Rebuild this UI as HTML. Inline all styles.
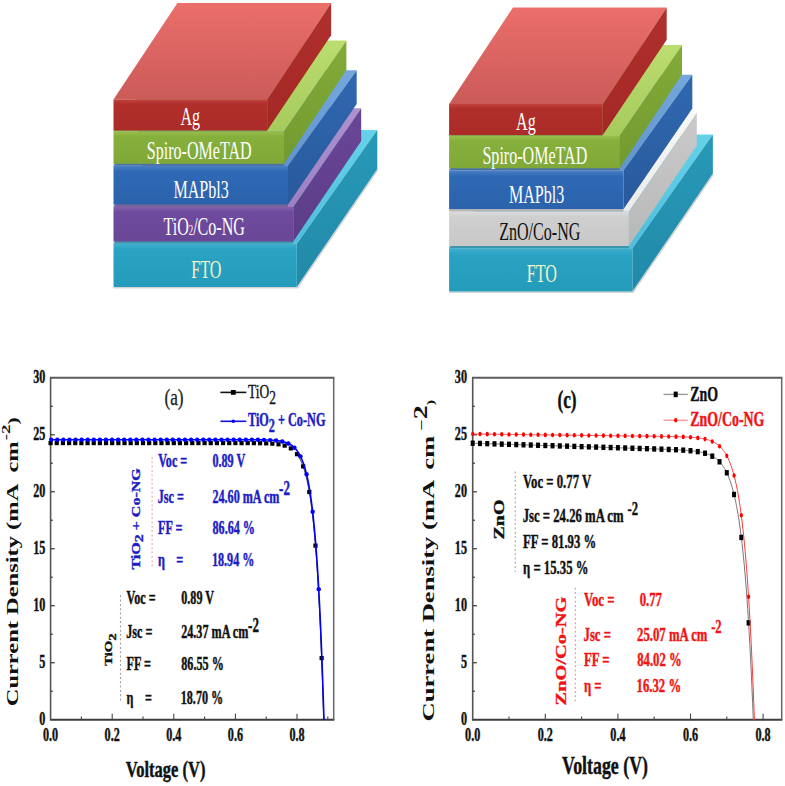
<!DOCTYPE html>
<html><head><meta charset="utf-8"><style>
html,body{margin:0;padding:0;background:#fff;width:785px;height:786px;overflow:hidden}
svg{display:block;font-family:"Liberation Serif",serif}
</style></head><body>
<svg width="785" height="786" viewBox="0 0 785 786">
<defs>
<linearGradient id="t_red" x1="0" y1="0" x2="0" y2="1"><stop offset="0" stop-color="#eb6e6a"/><stop offset="1" stop-color="#cb5b59"/></linearGradient>
<linearGradient id="f_red" x1="0" y1="0" x2="0" y2="1"><stop offset="0" stop-color="#c0433e"/><stop offset="0.15" stop-color="#b12f2b"/><stop offset="1" stop-color="#aa2b28"/></linearGradient>
<linearGradient id="s_red" x1="0" y1="0" x2="0" y2="1"><stop offset="0" stop-color="#b0302c"/><stop offset="1" stop-color="#a32826"/></linearGradient>
<linearGradient id="t_green" x1="0" y1="0" x2="0" y2="1"><stop offset="0" stop-color="#bcdd70"/><stop offset="1" stop-color="#a6ca5c"/></linearGradient>
<linearGradient id="f_green" x1="0" y1="0" x2="0" y2="1"><stop offset="0" stop-color="#97bf4c"/><stop offset="0.15" stop-color="#86b03c"/><stop offset="1" stop-color="#80a838"/></linearGradient>
<linearGradient id="s_green" x1="0" y1="0" x2="0" y2="1"><stop offset="0" stop-color="#82ab38"/><stop offset="1" stop-color="#729a30"/></linearGradient>
<linearGradient id="t_blue" x1="0" y1="0" x2="0" y2="1"><stop offset="0" stop-color="#74a8dc"/><stop offset="1" stop-color="#5f94cf"/></linearGradient>
<linearGradient id="f_blue" x1="0" y1="0" x2="0" y2="1"><stop offset="0" stop-color="#4a80c4"/><stop offset="0.15" stop-color="#2f69b5"/><stop offset="1" stop-color="#2b62ab"/></linearGradient>
<linearGradient id="s_blue" x1="0" y1="0" x2="0" y2="1"><stop offset="0" stop-color="#3068b0"/><stop offset="1" stop-color="#285a9c"/></linearGradient>
<linearGradient id="t_purple" x1="0" y1="0" x2="0" y2="1"><stop offset="0" stop-color="#ae92cf"/><stop offset="1" stop-color="#9c80c2"/></linearGradient>
<linearGradient id="f_purple" x1="0" y1="0" x2="0" y2="1"><stop offset="0" stop-color="#8262ad"/><stop offset="0.15" stop-color="#6f4a9e"/><stop offset="1" stop-color="#6a4696"/></linearGradient>
<linearGradient id="s_purple" x1="0" y1="0" x2="0" y2="1"><stop offset="0" stop-color="#6a4698"/><stop offset="1" stop-color="#5c3c88"/></linearGradient>
<linearGradient id="t_gray" x1="0" y1="0" x2="0" y2="1"><stop offset="0" stop-color="#f8f8f8"/><stop offset="1" stop-color="#ebebeb"/></linearGradient>
<linearGradient id="f_gray" x1="0" y1="0" x2="0" y2="1"><stop offset="0" stop-color="#dedede"/><stop offset="0.15" stop-color="#cfcfcf"/><stop offset="1" stop-color="#c8c8c8"/></linearGradient>
<linearGradient id="s_gray" x1="0" y1="0" x2="0" y2="1"><stop offset="0" stop-color="#cacaca"/><stop offset="1" stop-color="#b8b8b8"/></linearGradient>
<linearGradient id="t_cyan" x1="0" y1="0" x2="0" y2="1"><stop offset="0" stop-color="#66d2ea"/><stop offset="1" stop-color="#4cbfdc"/></linearGradient>
<linearGradient id="f_cyan" x1="0" y1="0" x2="0" y2="1"><stop offset="0" stop-color="#3fb0cf"/><stop offset="0.15" stop-color="#29a2c3"/><stop offset="1" stop-color="#259bba"/></linearGradient>
<linearGradient id="s_cyan" x1="0" y1="0" x2="0" y2="1"><stop offset="0" stop-color="#2899b8"/><stop offset="1" stop-color="#218aa8"/></linearGradient>
</defs>
<polygon points="113.8,288.6 297.8,288.6 378.3,170.2 377.3,169.0 296.8,287.0 113.8,287.0" fill="#c9c9c9" opacity="0.8"/>
<polygon points="113.5,243.7 296.8,243.7 377.3,130.1 194.0,130.1" fill="url(#t_cyan)"/>
<polygon points="296.8,243.7 377.3,130.1 377.3,169.0 296.8,287.0" fill="url(#s_cyan)"/>
<rect x="113.5" y="243.7" width="183.3" height="43.3" fill="url(#f_cyan)"/>
<polygon points="113.5,207.0 293.3,207.0 361.2,108.3 181.4,108.3" fill="url(#t_purple)"/>
<polygon points="293.3,207.0 361.2,108.3 361.2,141.0 293.3,241.5" fill="url(#s_purple)"/>
<rect x="113.5" y="207.0" width="179.8" height="34.5" fill="url(#f_purple)"/>
<polygon points="113.5,165.8 288.0,165.8 356.7,70.2 182.2,70.2" fill="url(#t_blue)"/>
<polygon points="288.0,165.8 356.7,70.2 356.7,104.0 288.0,204.6" fill="url(#s_blue)"/>
<rect x="113.5" y="165.8" width="174.5" height="38.8" fill="url(#f_blue)"/>
<polygon points="113.5,131.4 284.0,131.4 346.4,40.4 175.9,40.4" fill="url(#t_green)"/>
<polygon points="284.0,131.4 346.4,40.4 346.4,70.0 284.0,163.8" fill="url(#s_green)"/>
<rect x="113.5" y="131.4" width="170.5" height="32.4" fill="url(#f_green)"/>
<polygon points="113.5,99.4 267.2,99.4 331.1,3.0 177.4,3.0" fill="url(#t_red)"/>
<polygon points="267.2,99.4 331.1,3.0 331.1,35.3 267.2,130.5" fill="url(#s_red)"/>
<rect x="113.5" y="99.4" width="153.7" height="31.1" fill="url(#f_red)"/>
<rect x="113.5" y="241.5" width="179.8" height="2.2" fill="#000" opacity="0.22"/>
<rect x="113.5" y="204.6" width="174.5" height="2.4" fill="#000" opacity="0.22"/>
<rect x="113.5" y="163.8" width="170.5" height="2.0" fill="#000" opacity="0.22"/>
<rect x="113.5" y="130.5" width="153.7" height="0.9" fill="#000" opacity="0.22"/>
<text transform="translate(190.30,125.20) scale(0.630,1)" font-size="25.50" font-weight="normal" fill="#fff" stroke="#fff" stroke-width="0.0" text-anchor="middle" >Ag</text>
<text transform="translate(199.25,159.20) scale(0.630,1)" font-size="25.50" font-weight="normal" fill="#fff" stroke="#fff" stroke-width="0.0" text-anchor="middle" >Spiro-OMeTAD</text>
<text transform="translate(201.05,198.40) scale(0.630,1)" font-size="25.50" font-weight="normal" fill="#fff" stroke="#fff" stroke-width="0.0" text-anchor="middle" >MAPbl3</text>
<text transform="translate(204.15,235.20) scale(0.630,1)" font-size="25.50" font-weight="normal" fill="#fff" stroke="#fff" stroke-width="0.0" text-anchor="middle" >TiO<tspan font-size="14">2</tspan>/Co-NG</text>
<text transform="translate(206.25,277.90) scale(0.630,1)" font-size="25.50" font-weight="normal" fill="#f4f2c8" stroke="#f4f2c8" stroke-width="0.0" text-anchor="middle" >FTO</text>
<polygon points="449.4,293.1 633.4,293.1 713.9,174.7 712.9,173.5 632.4,291.5 449.4,291.5" fill="#c9c9c9" opacity="0.8"/>
<polygon points="449.1,248.2 632.4,248.2 712.9,134.6 529.6,134.6" fill="url(#t_cyan)"/>
<polygon points="632.4,248.2 712.9,134.6 712.9,173.5 632.4,291.5" fill="url(#s_cyan)"/>
<rect x="449.1" y="248.2" width="183.3" height="43.3" fill="url(#f_cyan)"/>
<polygon points="449.1,211.5 628.9,211.5 696.8,112.8 517.0,112.8" fill="url(#t_gray)"/>
<polygon points="628.9,211.5 696.8,112.8 696.8,145.5 628.9,246.0" fill="url(#s_gray)"/>
<rect x="449.1" y="211.5" width="179.8" height="34.5" fill="url(#f_gray)"/>
<polygon points="449.1,170.3 623.6,170.3 692.3,74.7 517.8,74.7" fill="url(#t_blue)"/>
<polygon points="623.6,170.3 692.3,74.7 692.3,108.5 623.6,209.1" fill="url(#s_blue)"/>
<rect x="449.1" y="170.3" width="174.5" height="38.8" fill="url(#f_blue)"/>
<polygon points="449.1,135.9 619.6,135.9 682.0,44.9 511.5,44.9" fill="url(#t_green)"/>
<polygon points="619.6,135.9 682.0,44.9 682.0,74.5 619.6,168.3" fill="url(#s_green)"/>
<rect x="449.1" y="135.9" width="170.5" height="32.4" fill="url(#f_green)"/>
<polygon points="449.1,103.9 602.8,103.9 666.7,7.5 513.0,7.5" fill="url(#t_red)"/>
<polygon points="602.8,103.9 666.7,7.5 666.7,39.8 602.8,135.0" fill="url(#s_red)"/>
<rect x="449.1" y="103.9" width="153.7" height="31.1" fill="url(#f_red)"/>
<rect x="449.1" y="246.0" width="179.8" height="2.2" fill="#000" opacity="0.22"/>
<rect x="449.1" y="209.1" width="174.5" height="2.4" fill="#000" opacity="0.22"/>
<rect x="449.1" y="168.3" width="170.5" height="2.0" fill="#000" opacity="0.22"/>
<rect x="449.1" y="135.0" width="153.7" height="0.9" fill="#000" opacity="0.22"/>
<text transform="translate(525.90,129.70) scale(0.630,1)" font-size="25.50" font-weight="normal" fill="#fff" stroke="#fff" stroke-width="0.0" text-anchor="middle" >Ag</text>
<text transform="translate(534.85,163.70) scale(0.630,1)" font-size="25.50" font-weight="normal" fill="#fff" stroke="#fff" stroke-width="0.0" text-anchor="middle" >Spiro-OMeTAD</text>
<text transform="translate(536.65,202.90) scale(0.630,1)" font-size="25.50" font-weight="normal" fill="#fff" stroke="#fff" stroke-width="0.0" text-anchor="middle" >MAPbl3</text>
<text transform="translate(539.75,239.70) scale(0.630,1)" font-size="25.50" font-weight="normal" fill="#111" stroke="#111" stroke-width="0.0" text-anchor="middle" >ZnO/Co-NG</text>
<text transform="translate(541.85,282.40) scale(0.630,1)" font-size="25.50" font-weight="normal" fill="#f4f2c8" stroke="#f4f2c8" stroke-width="0.0" text-anchor="middle" >FTO</text>
<line x1="49.90" y1="377.79" x2="334.40" y2="377.79" stroke="#5c5c5c" stroke-width="1.9"/>
<line x1="49.90" y1="719.70" x2="334.40" y2="719.70" stroke="#3c3c3c" stroke-width="1.9"/>
<line x1="50.60" y1="377.79" x2="50.60" y2="719.70" stroke="#555" stroke-width="1.6"/>
<line x1="333.70" y1="377.79" x2="333.70" y2="719.70" stroke="#666" stroke-width="1.5"/>
<line x1="50.60" y1="662.72" x2="54.80" y2="662.72" stroke="#444" stroke-width="1.3"/>
<line x1="50.60" y1="605.73" x2="54.80" y2="605.73" stroke="#444" stroke-width="1.3"/>
<line x1="50.60" y1="548.75" x2="54.80" y2="548.75" stroke="#444" stroke-width="1.3"/>
<line x1="50.60" y1="491.76" x2="54.80" y2="491.76" stroke="#444" stroke-width="1.3"/>
<line x1="50.60" y1="434.78" x2="54.80" y2="434.78" stroke="#444" stroke-width="1.3"/>
<line x1="50.60" y1="691.21" x2="52.80" y2="691.21" stroke="#444" stroke-width="1.3"/>
<line x1="50.60" y1="634.22" x2="52.80" y2="634.22" stroke="#444" stroke-width="1.3"/>
<line x1="50.60" y1="577.24" x2="52.80" y2="577.24" stroke="#444" stroke-width="1.3"/>
<line x1="50.60" y1="520.25" x2="52.80" y2="520.25" stroke="#444" stroke-width="1.3"/>
<line x1="50.60" y1="463.27" x2="52.80" y2="463.27" stroke="#444" stroke-width="1.3"/>
<line x1="50.60" y1="406.28" x2="52.80" y2="406.28" stroke="#444" stroke-width="1.3"/>
<line x1="112.20" y1="719.70" x2="112.20" y2="713.70" stroke="#444" stroke-width="1.1"/>
<line x1="173.80" y1="719.70" x2="173.80" y2="713.70" stroke="#444" stroke-width="1.1"/>
<line x1="235.40" y1="719.70" x2="235.40" y2="713.70" stroke="#444" stroke-width="1.1"/>
<line x1="297.00" y1="719.70" x2="297.00" y2="713.70" stroke="#444" stroke-width="1.1"/>
<line x1="81.40" y1="719.70" x2="81.40" y2="716.40" stroke="#444" stroke-width="1.1"/>
<line x1="143.00" y1="719.70" x2="143.00" y2="716.40" stroke="#444" stroke-width="1.1"/>
<line x1="204.60" y1="719.70" x2="204.60" y2="716.40" stroke="#444" stroke-width="1.1"/>
<line x1="266.20" y1="719.70" x2="266.20" y2="716.40" stroke="#444" stroke-width="1.1"/>
<line x1="327.80" y1="719.70" x2="327.80" y2="716.40" stroke="#444" stroke-width="1.1"/>
<text transform="translate(45.40,724.90) scale(0.660,1)" font-size="18.40" font-weight="bold" fill="#111" stroke="#111" stroke-width="0.45" text-anchor="end" >0</text>
<text transform="translate(45.40,667.92) scale(0.660,1)" font-size="18.40" font-weight="bold" fill="#111" stroke="#111" stroke-width="0.45" text-anchor="end" >5</text>
<text transform="translate(45.40,610.93) scale(0.660,1)" font-size="18.40" font-weight="bold" fill="#111" stroke="#111" stroke-width="0.45" text-anchor="end" >10</text>
<text transform="translate(45.40,553.95) scale(0.660,1)" font-size="18.40" font-weight="bold" fill="#111" stroke="#111" stroke-width="0.45" text-anchor="end" >15</text>
<text transform="translate(45.40,496.96) scale(0.660,1)" font-size="18.40" font-weight="bold" fill="#111" stroke="#111" stroke-width="0.45" text-anchor="end" >20</text>
<text transform="translate(45.40,439.98) scale(0.660,1)" font-size="18.40" font-weight="bold" fill="#111" stroke="#111" stroke-width="0.45" text-anchor="end" >25</text>
<text transform="translate(45.40,382.99) scale(0.660,1)" font-size="18.40" font-weight="bold" fill="#111" stroke="#111" stroke-width="0.45" text-anchor="end" >30</text>
<text transform="translate(50.60,741.40) scale(0.660,1)" font-size="18.40" font-weight="bold" fill="#111" stroke="#111" stroke-width="0.45" text-anchor="middle" >0.0</text>
<text transform="translate(112.20,741.40) scale(0.660,1)" font-size="18.40" font-weight="bold" fill="#111" stroke="#111" stroke-width="0.45" text-anchor="middle" >0.2</text>
<text transform="translate(173.80,741.40) scale(0.660,1)" font-size="18.40" font-weight="bold" fill="#111" stroke="#111" stroke-width="0.45" text-anchor="middle" >0.4</text>
<text transform="translate(235.40,741.40) scale(0.660,1)" font-size="18.40" font-weight="bold" fill="#111" stroke="#111" stroke-width="0.45" text-anchor="middle" >0.6</text>
<text transform="translate(297.00,741.40) scale(0.660,1)" font-size="18.40" font-weight="bold" fill="#111" stroke="#111" stroke-width="0.45" text-anchor="middle" >0.8</text>
<path d="M297.00,454.20 L297.07,454.29 L297.13,454.38 L297.20,454.48 L297.27,454.57 L297.34,454.66 L297.40,454.75 L297.47,454.85 L297.54,454.94 L297.60,455.04 L297.67,455.14 L297.74,455.23 L297.80,455.33 L297.87,455.43 L297.94,455.53 L298.01,455.63 L298.07,455.73 L298.14,455.83 L298.21,455.94 L298.27,456.04 L298.34,456.15 L298.41,456.25 L298.47,456.36 L298.54,456.47 L298.61,456.57 L298.68,456.68 L298.74,456.79 L298.81,456.90 L298.88,457.02 L298.94,457.13 L299.01,457.24 L299.08,457.36 L299.14,457.47 L299.21,457.59 L299.28,457.71 L299.35,457.82 L299.41,457.94 L299.48,458.06 L299.55,458.18 L299.61,458.31 L299.68,458.43 L299.75,458.55 L299.81,458.68 L299.88,458.80 L299.95,458.93 L300.02,459.06 L300.08,459.19 L300.15,459.32 L300.22,459.45 L300.28,459.58 L300.35,459.72 L300.42,459.85 L300.48,459.99 L300.55,460.12 L300.62,460.26 L300.69,460.40 L300.75,460.54 L300.82,460.68 L300.89,460.82 L300.95,460.97 L301.02,461.11 L301.09,461.26 L301.15,461.40 L301.22,461.55 L301.29,461.70 L301.36,461.85 L301.42,462.00 L301.49,462.16 L301.56,462.31 L301.62,462.46 L301.69,462.62 L301.76,462.78 L301.82,462.94 L301.89,463.10 L301.96,463.26 L302.03,463.42 L302.09,463.59 L302.16,463.75 L302.23,463.92 L302.29,464.09 L302.36,464.26 L302.43,464.43 L302.49,464.60 L302.56,464.78 L302.63,464.95 L302.70,465.13 L302.76,465.31 L302.83,465.49 L302.90,465.67 L302.96,465.85 L303.03,466.04 L303.10,466.22 L303.16,466.41 L303.23,466.60 L303.30,466.79 L303.37,466.98 L303.43,467.17 L303.50,467.37 L303.57,467.56 L303.63,467.76 L303.70,467.96 L303.77,468.16 L303.83,468.36 L303.90,468.57 L303.97,468.78 L304.04,468.98 L304.10,469.19 L304.17,469.40 L304.24,469.62 L304.30,469.83 L304.37,470.05 L304.44,470.27 L304.50,470.48 L304.57,470.71 L304.64,470.93 L304.71,471.16 L304.77,471.38 L304.84,471.61 L304.91,471.84 L304.97,472.07 L305.04,472.31 L305.11,472.54 L305.17,472.78 L305.24,473.02 L305.31,473.27 L305.38,473.51 L305.44,473.76 L305.51,474.00 L305.58,474.25 L305.64,474.51 L305.71,474.76 L305.78,475.02 L305.84,475.27 L305.91,475.53 L305.98,475.80 L306.05,476.06 L306.11,476.33 L306.18,476.60 L306.25,476.87 L306.31,477.14 L306.38,477.42 L306.45,477.69 L306.51,477.97 L306.58,478.26 L306.65,478.54 L306.72,478.83 L306.78,479.12 L306.85,479.41 L306.92,479.70 L306.98,480.00 L307.05,480.30 L307.12,480.60 L307.18,480.90 L307.25,481.21 L307.32,481.51 L307.39,481.83 L307.45,482.14 L307.52,482.45 L307.59,482.77 L307.65,483.09 L307.72,483.42 L307.79,483.74 L307.85,484.07 L307.92,484.40 L307.99,484.74 L308.06,485.08 L308.12,485.42 L308.19,485.76 L308.26,486.10 L308.32,486.45 L308.39,486.80 L308.46,487.15 L308.52,487.51 L308.59,487.87 L308.66,488.23 L308.73,488.60 L308.79,488.97 L308.86,489.34 L308.93,489.71 L308.99,490.09 L309.06,490.47 L309.13,490.85 L309.19,491.24 L309.26,491.63 L309.33,492.02 L309.40,492.42 L309.46,492.82 L309.53,493.22 L309.60,493.62 L309.66,494.03 L309.73,494.44 L309.80,494.86 L309.86,495.28 L309.93,495.70 L310.00,496.13 L310.07,496.55 L310.13,496.99 L310.20,497.42 L310.27,497.86 L310.33,498.31 L310.40,498.75 L310.47,499.20 L310.53,499.66 L310.60,500.11 L310.67,500.58 L310.74,501.04 L310.80,501.51 L310.87,501.98 L310.94,502.46 L311.00,502.94 L311.07,503.42 L311.14,503.91 L311.20,504.40 L311.27,504.90 L311.34,505.40 L311.41,505.90 L311.47,506.41 L311.54,506.92 L311.61,507.44 L311.67,507.96 L311.74,508.48 L311.81,509.01 L311.87,509.55 L311.94,510.08 L312.01,510.63 L312.08,511.17 L312.14,511.72 L312.21,512.28 L312.28,512.84 L312.34,513.40 L312.41,513.97 L312.48,514.54 L312.54,515.12 L312.61,515.70 L312.68,516.29 L312.75,516.88 L312.81,517.48 L312.88,518.08 L312.95,518.69 L313.01,519.30 L313.08,519.92 L313.15,520.54 L313.21,521.17 L313.28,521.80 L313.35,522.43 L313.42,523.08 L313.48,523.72 L313.55,524.37 L313.62,525.03 L313.68,525.70 L313.75,526.36 L313.82,527.04 L313.88,527.72 L313.95,528.40 L314.02,529.09 L314.09,529.79 L314.15,530.49 L314.22,531.19 L314.29,531.91 L314.35,532.63 L314.42,533.35 L314.49,534.08 L314.55,534.82 L314.62,535.56 L314.69,536.31 L314.76,537.06 L314.82,537.82 L314.89,538.59 L314.96,539.36 L315.02,540.14 L315.09,540.92 L315.16,541.71 L315.22,542.51 L315.29,543.32 L315.36,544.13 L315.43,544.94 L315.49,545.77 L315.56,546.60 L315.63,547.44 L315.69,548.28 L315.76,549.13 L315.83,549.99 L315.89,550.85 L315.96,551.73 L316.03,552.60 L316.10,553.49 L316.16,554.38 L316.23,555.28 L316.30,556.19 L316.36,557.11 L316.43,558.03 L316.50,558.96 L316.57,559.90 L316.63,560.84 L316.70,561.79 L316.77,562.75 L316.83,563.72 L316.90,564.70 L316.97,565.68 L317.03,566.67 L317.10,567.67 L317.17,568.68 L317.24,569.70 L317.30,570.72 L317.37,571.75 L317.44,572.79 L317.50,573.84 L317.57,574.90 L317.64,575.97 L317.70,577.04 L317.77,578.13 L317.84,579.22 L317.91,580.32 L317.97,581.43 L318.04,582.55 L318.11,583.68 L318.17,584.81 L318.24,585.96 L318.31,587.12 L318.37,588.28 L318.44,589.46 L318.51,590.64 L318.58,591.83 L318.64,593.04 L318.71,594.25 L318.78,595.47 L318.84,596.70 L318.91,597.95 L318.98,599.20 L319.04,600.46 L319.11,601.74 L319.18,603.02 L319.25,604.31 L319.31,605.62 L319.38,606.93 L319.45,608.26 L319.51,609.59 L319.58,610.94 L319.65,612.30 L319.71,613.67 L319.78,615.05 L319.85,616.44 L319.92,617.84 L319.98,619.25 L320.05,620.68 L320.12,622.12 L320.18,623.56 L320.25,625.02 L320.32,626.50 L320.38,627.98 L320.45,629.48 L320.52,630.98 L320.59,632.50 L320.65,634.04 L320.72,635.58 L320.79,637.14 L320.85,638.71 L320.92,640.29 L320.99,641.88 L321.05,643.49 L321.12,645.11 L321.19,646.75 L321.26,648.40 L321.32,650.06 L321.39,651.73 L321.46,653.42 L321.52,655.12 L321.59,656.84 L321.66,658.56 L321.72,660.31 L321.79,662.06 L321.86,663.84 L321.93,665.62 L321.99,667.42 L322.06,669.24 L322.13,671.07 L322.19,672.91 L322.26,674.77 L322.33,676.64 L322.39,678.53 L322.46,680.44 L322.53,682.36 L322.60,684.29 L322.66,686.24 L322.73,688.21 L322.80,690.19 L322.86,692.19 L322.93,694.21 L323.00,696.24 L323.06,698.29 L323.13,700.35 L323.20,702.43 L323.27,704.53 L323.33,706.65 L323.40,708.78 L323.47,710.93 L323.53,713.09 L323.60,715.28 L323.67,717.48 L323.73,719.70" fill="none" stroke="#000" stroke-width="1.0"/>
<rect x="48.50" y="440.99" width="4.2" height="4.2" fill="#000"/>
<rect x="54.66" y="440.99" width="4.2" height="4.2" fill="#000"/>
<rect x="60.82" y="440.99" width="4.2" height="4.2" fill="#000"/>
<rect x="66.98" y="440.99" width="4.2" height="4.2" fill="#000"/>
<rect x="73.14" y="440.99" width="4.2" height="4.2" fill="#000"/>
<rect x="79.30" y="440.99" width="4.2" height="4.2" fill="#000"/>
<rect x="85.46" y="440.99" width="4.2" height="4.2" fill="#000"/>
<rect x="91.62" y="440.99" width="4.2" height="4.2" fill="#000"/>
<rect x="97.78" y="440.99" width="4.2" height="4.2" fill="#000"/>
<rect x="103.94" y="440.99" width="4.2" height="4.2" fill="#000"/>
<rect x="110.10" y="440.99" width="4.2" height="4.2" fill="#000"/>
<rect x="116.26" y="440.99" width="4.2" height="4.2" fill="#000"/>
<rect x="122.42" y="440.99" width="4.2" height="4.2" fill="#000"/>
<rect x="128.58" y="440.99" width="4.2" height="4.2" fill="#000"/>
<rect x="134.74" y="440.99" width="4.2" height="4.2" fill="#000"/>
<rect x="140.90" y="440.99" width="4.2" height="4.2" fill="#000"/>
<rect x="147.06" y="440.99" width="4.2" height="4.2" fill="#000"/>
<rect x="153.22" y="440.99" width="4.2" height="4.2" fill="#000"/>
<rect x="159.38" y="440.99" width="4.2" height="4.2" fill="#000"/>
<rect x="165.54" y="440.99" width="4.2" height="4.2" fill="#000"/>
<rect x="171.70" y="440.99" width="4.2" height="4.2" fill="#000"/>
<rect x="177.86" y="440.99" width="4.2" height="4.2" fill="#000"/>
<rect x="184.02" y="440.99" width="4.2" height="4.2" fill="#000"/>
<rect x="190.18" y="440.99" width="4.2" height="4.2" fill="#000"/>
<rect x="196.34" y="440.99" width="4.2" height="4.2" fill="#000"/>
<rect x="202.50" y="440.99" width="4.2" height="4.2" fill="#000"/>
<rect x="208.66" y="441.00" width="4.2" height="4.2" fill="#000"/>
<rect x="214.82" y="441.00" width="4.2" height="4.2" fill="#000"/>
<rect x="220.98" y="441.00" width="4.2" height="4.2" fill="#000"/>
<rect x="227.14" y="441.00" width="4.2" height="4.2" fill="#000"/>
<rect x="233.30" y="441.00" width="4.2" height="4.2" fill="#000"/>
<rect x="239.46" y="441.01" width="4.2" height="4.2" fill="#000"/>
<rect x="245.62" y="441.02" width="4.2" height="4.2" fill="#000"/>
<rect x="251.78" y="441.06" width="4.2" height="4.2" fill="#000"/>
<rect x="257.94" y="441.13" width="4.2" height="4.2" fill="#000"/>
<rect x="264.10" y="441.27" width="4.2" height="4.2" fill="#000"/>
<rect x="270.26" y="441.57" width="4.2" height="4.2" fill="#000"/>
<rect x="276.42" y="442.20" width="4.2" height="4.2" fill="#000"/>
<rect x="282.58" y="443.52" width="4.2" height="4.2" fill="#000"/>
<rect x="288.74" y="446.29" width="4.2" height="4.2" fill="#000"/>
<rect x="294.90" y="452.10" width="4.2" height="4.2" fill="#000"/>
<rect x="301.06" y="464.30" width="4.2" height="4.2" fill="#000"/>
<rect x="307.22" y="489.87" width="4.2" height="4.2" fill="#000"/>
<rect x="313.38" y="543.51" width="4.2" height="4.2" fill="#000"/>
<rect x="319.54" y="656.02" width="4.2" height="4.2" fill="#000"/>
<path d="M50.60,439.68 L51.29,439.68 L51.97,439.68 L52.66,439.68 L53.34,439.68 L54.03,439.68 L54.71,439.68 L55.40,439.68 L56.08,439.68 L56.77,439.68 L57.45,439.68 L58.14,439.68 L58.82,439.68 L59.51,439.68 L60.19,439.68 L60.88,439.68 L61.56,439.68 L62.25,439.68 L62.93,439.68 L63.62,439.68 L64.30,439.68 L64.99,439.68 L65.67,439.68 L66.36,439.68 L67.04,439.68 L67.73,439.68 L68.41,439.68 L69.10,439.68 L69.78,439.68 L70.47,439.68 L71.15,439.68 L71.84,439.68 L72.52,439.68 L73.21,439.68 L73.89,439.68 L74.58,439.68 L75.26,439.68 L75.95,439.68 L76.63,439.68 L77.32,439.68 L78.00,439.68 L78.69,439.68 L79.37,439.68 L80.06,439.68 L80.74,439.68 L81.43,439.68 L82.11,439.68 L82.80,439.68 L83.48,439.68 L84.17,439.68 L84.85,439.68 L85.54,439.68 L86.22,439.68 L86.91,439.68 L87.59,439.68 L88.28,439.68 L88.96,439.68 L89.65,439.68 L90.34,439.68 L91.02,439.68 L91.71,439.68 L92.39,439.68 L93.08,439.68 L93.76,439.68 L94.45,439.68 L95.13,439.68 L95.82,439.68 L96.50,439.68 L97.19,439.68 L97.87,439.68 L98.56,439.68 L99.24,439.68 L99.93,439.68 L100.61,439.68 L101.30,439.68 L101.98,439.68 L102.67,439.68 L103.35,439.68 L104.04,439.68 L104.72,439.68 L105.41,439.68 L106.09,439.68 L106.78,439.68 L107.46,439.68 L108.15,439.68 L108.83,439.68 L109.52,439.68 L110.20,439.68 L110.89,439.68 L111.57,439.68 L112.26,439.68 L112.94,439.68 L113.63,439.68 L114.31,439.68 L115.00,439.68 L115.68,439.68 L116.37,439.68 L117.05,439.68 L117.74,439.68 L118.42,439.68 L119.11,439.68 L119.79,439.68 L120.48,439.68 L121.16,439.68 L121.85,439.68 L122.53,439.68 L123.22,439.68 L123.90,439.68 L124.59,439.68 L125.27,439.68 L125.96,439.68 L126.64,439.68 L127.33,439.68 L128.01,439.68 L128.70,439.68 L129.39,439.68 L130.07,439.68 L130.76,439.68 L131.44,439.68 L132.13,439.68 L132.81,439.68 L133.50,439.68 L134.18,439.68 L134.87,439.68 L135.55,439.68 L136.24,439.68 L136.92,439.68 L137.61,439.68 L138.29,439.68 L138.98,439.68 L139.66,439.68 L140.35,439.68 L141.03,439.68 L141.72,439.68 L142.40,439.68 L143.09,439.68 L143.77,439.68 L144.46,439.68 L145.14,439.68 L145.83,439.68 L146.51,439.68 L147.20,439.68 L147.88,439.68 L148.57,439.68 L149.25,439.68 L149.94,439.68 L150.62,439.68 L151.31,439.68 L151.99,439.68 L152.68,439.68 L153.36,439.68 L154.05,439.68 L154.73,439.68 L155.42,439.68 L156.10,439.68 L156.79,439.68 L157.47,439.68 L158.16,439.68 L158.84,439.68 L159.53,439.68 L160.21,439.68 L160.90,439.68 L161.58,439.68 L162.27,439.68 L162.95,439.68 L163.64,439.68 L164.32,439.68 L165.01,439.68 L165.69,439.68 L166.38,439.68 L167.06,439.68 L167.75,439.68 L168.44,439.68 L169.12,439.68 L169.81,439.68 L170.49,439.68 L171.18,439.68 L171.86,439.68 L172.55,439.68 L173.23,439.68 L173.92,439.68 L174.60,439.68 L175.29,439.68 L175.97,439.68 L176.66,439.68 L177.34,439.68 L178.03,439.68 L178.71,439.68 L179.40,439.68 L180.08,439.68 L180.77,439.68 L181.45,439.68 L182.14,439.68 L182.82,439.68 L183.51,439.68 L184.19,439.68 L184.88,439.68 L185.56,439.68 L186.25,439.68 L186.93,439.68 L187.62,439.68 L188.30,439.68 L188.99,439.68 L189.67,439.68 L190.36,439.68 L191.04,439.68 L191.73,439.68 L192.41,439.68 L193.10,439.68 L193.78,439.68 L194.47,439.68 L195.15,439.68 L195.84,439.68 L196.52,439.68 L197.21,439.68 L197.89,439.68 L198.58,439.68 L199.26,439.68 L199.95,439.68 L200.63,439.68 L201.32,439.68 L202.00,439.68 L202.69,439.68 L203.37,439.68 L204.06,439.68 L204.74,439.68 L205.43,439.68 L206.11,439.68 L206.80,439.68 L207.49,439.68 L208.17,439.68 L208.86,439.68 L209.54,439.68 L210.23,439.68 L210.91,439.68 L211.60,439.68 L212.28,439.68 L212.97,439.68 L213.65,439.68 L214.34,439.68 L215.02,439.68 L215.71,439.68 L216.39,439.68 L217.08,439.68 L217.76,439.68 L218.45,439.68 L219.13,439.68 L219.82,439.68 L220.50,439.68 L221.19,439.68 L221.87,439.68 L222.56,439.68 L223.24,439.68 L223.93,439.68 L224.61,439.68 L225.30,439.68 L225.98,439.68 L226.67,439.68 L227.35,439.68 L228.04,439.68 L228.72,439.68 L229.41,439.68 L230.09,439.68 L230.78,439.68 L231.46,439.68 L232.15,439.68 L232.83,439.68 L233.52,439.68 L234.20,439.68 L234.89,439.68 L235.57,439.68 L236.26,439.68 L236.94,439.68 L237.63,439.68 L238.31,439.69 L239.00,439.69 L239.68,439.69 L240.37,439.69 L241.05,439.69 L241.74,439.69 L242.42,439.69 L243.11,439.69 L243.79,439.69 L244.48,439.70 L245.16,439.70 L245.85,439.70 L246.54,439.70 L247.22,439.70 L247.91,439.71 L248.59,439.71 L249.28,439.71 L249.96,439.71 L250.65,439.72 L251.33,439.72 L252.02,439.72 L252.70,439.73 L253.39,439.73 L254.07,439.74 L254.76,439.74 L255.44,439.75 L256.13,439.76 L256.81,439.76 L257.50,439.77 L258.18,439.78 L258.87,439.79 L259.55,439.80 L260.24,439.81 L260.92,439.82 L261.61,439.83 L262.29,439.84 L262.98,439.86 L263.66,439.87 L264.35,439.89 L265.03,439.91 L265.72,439.93 L266.40,439.95 L267.09,439.98 L267.77,440.00 L268.46,440.03 L269.14,440.06 L269.83,440.09 L270.51,440.13 L271.20,440.17 L271.88,440.21 L272.57,440.26 L273.25,440.31 L273.94,440.36 L274.62,440.42 L275.31,440.48 L275.99,440.55 L276.68,440.63 L277.36,440.71 L278.05,440.80 L278.73,440.89 L279.42,441.00 L280.10,441.11 L280.79,441.24 L281.47,441.37 L282.16,441.52 L282.84,441.67 L283.53,441.84 L284.21,442.03 L284.90,442.23 L285.59,442.45 L286.27,442.69 L286.96,442.95 L287.64,443.23 L288.33,443.54 L289.01,443.87 L289.70,444.23 L290.38,444.62 L291.07,445.04 L291.75,445.51 L292.44,446.01 L293.12,446.55 L293.81,447.14 L294.49,447.78 L295.18,448.48 L295.86,449.23 L296.55,450.05 L297.23,450.94 L297.92,451.91 L298.60,452.96 L299.29,454.10 L299.97,455.34 L300.66,456.69 L301.34,458.15 L302.03,459.73 L302.71,461.46 L303.40,463.33 L304.08,465.36 L304.77,467.56 L305.45,469.96 L306.14,472.56 L306.82,475.38 L307.51,478.45 L308.19,481.78 L308.88,485.39 L309.56,489.32 L310.25,493.58 L310.93,498.21 L311.62,503.24 L312.30,508.69 L312.99,514.62 L313.67,521.06 L314.36,528.05 L315.04,535.63 L315.73,543.87 L316.41,552.82 L317.10,562.54 L317.78,573.09 L318.47,584.54 L319.15,596.98 L319.84,610.49 L320.52,625.16 L321.21,641.09 L321.89,658.38 L322.58,677.16 L323.26,697.56 L323.95,719.70" fill="none" stroke="#0000ff" stroke-width="1.6"/>
<circle cx="51.22" cy="439.68" r="2.2" fill="#0000ff"/>
<circle cx="57.30" cy="439.68" r="2.2" fill="#0000ff"/>
<circle cx="63.38" cy="439.68" r="2.2" fill="#0000ff"/>
<circle cx="69.46" cy="439.68" r="2.2" fill="#0000ff"/>
<circle cx="75.54" cy="439.68" r="2.2" fill="#0000ff"/>
<circle cx="81.62" cy="439.68" r="2.2" fill="#0000ff"/>
<circle cx="87.70" cy="439.68" r="2.2" fill="#0000ff"/>
<circle cx="93.78" cy="439.68" r="2.2" fill="#0000ff"/>
<circle cx="99.86" cy="439.68" r="2.2" fill="#0000ff"/>
<circle cx="105.94" cy="439.68" r="2.2" fill="#0000ff"/>
<circle cx="112.02" cy="439.68" r="2.2" fill="#0000ff"/>
<circle cx="118.10" cy="439.68" r="2.2" fill="#0000ff"/>
<circle cx="124.18" cy="439.68" r="2.2" fill="#0000ff"/>
<circle cx="130.25" cy="439.68" r="2.2" fill="#0000ff"/>
<circle cx="136.33" cy="439.68" r="2.2" fill="#0000ff"/>
<circle cx="142.41" cy="439.68" r="2.2" fill="#0000ff"/>
<circle cx="148.49" cy="439.68" r="2.2" fill="#0000ff"/>
<circle cx="154.57" cy="439.68" r="2.2" fill="#0000ff"/>
<circle cx="160.65" cy="439.68" r="2.2" fill="#0000ff"/>
<circle cx="166.73" cy="439.68" r="2.2" fill="#0000ff"/>
<circle cx="172.81" cy="439.68" r="2.2" fill="#0000ff"/>
<circle cx="178.89" cy="439.68" r="2.2" fill="#0000ff"/>
<circle cx="184.97" cy="439.68" r="2.2" fill="#0000ff"/>
<circle cx="191.05" cy="439.68" r="2.2" fill="#0000ff"/>
<circle cx="197.13" cy="439.68" r="2.2" fill="#0000ff"/>
<circle cx="203.21" cy="439.68" r="2.2" fill="#0000ff"/>
<circle cx="209.29" cy="439.68" r="2.2" fill="#0000ff"/>
<circle cx="215.37" cy="439.68" r="2.2" fill="#0000ff"/>
<circle cx="221.45" cy="439.68" r="2.2" fill="#0000ff"/>
<circle cx="227.53" cy="439.68" r="2.2" fill="#0000ff"/>
<circle cx="233.61" cy="439.68" r="2.2" fill="#0000ff"/>
<circle cx="239.69" cy="439.69" r="2.2" fill="#0000ff"/>
<circle cx="245.77" cy="439.70" r="2.2" fill="#0000ff"/>
<circle cx="251.85" cy="439.72" r="2.2" fill="#0000ff"/>
<circle cx="257.93" cy="439.78" r="2.2" fill="#0000ff"/>
<circle cx="264.01" cy="439.88" r="2.2" fill="#0000ff"/>
<circle cx="270.09" cy="440.11" r="2.2" fill="#0000ff"/>
<circle cx="276.17" cy="440.57" r="2.2" fill="#0000ff"/>
<circle cx="282.25" cy="441.54" r="2.2" fill="#0000ff"/>
<circle cx="288.33" cy="443.54" r="2.2" fill="#0000ff"/>
<circle cx="294.41" cy="447.70" r="2.2" fill="#0000ff"/>
<circle cx="300.49" cy="456.35" r="2.2" fill="#0000ff"/>
<circle cx="306.57" cy="474.32" r="2.2" fill="#0000ff"/>
<circle cx="312.65" cy="511.65" r="2.2" fill="#0000ff"/>
<circle cx="318.73" cy="589.20" r="2.2" fill="#0000ff"/>

<line x1="472.00" y1="377.79" x2="782.40" y2="377.79" stroke="#5c5c5c" stroke-width="1.9"/>
<line x1="472.00" y1="719.70" x2="782.40" y2="719.70" stroke="#3c3c3c" stroke-width="1.9"/>
<line x1="472.70" y1="377.79" x2="472.70" y2="719.70" stroke="#555" stroke-width="1.6"/>
<line x1="781.70" y1="377.79" x2="781.70" y2="719.70" stroke="#666" stroke-width="1.5"/>
<line x1="472.70" y1="662.72" x2="476.90" y2="662.72" stroke="#444" stroke-width="1.3"/>
<line x1="472.70" y1="605.73" x2="476.90" y2="605.73" stroke="#444" stroke-width="1.3"/>
<line x1="472.70" y1="548.75" x2="476.90" y2="548.75" stroke="#444" stroke-width="1.3"/>
<line x1="472.70" y1="491.76" x2="476.90" y2="491.76" stroke="#444" stroke-width="1.3"/>
<line x1="472.70" y1="434.78" x2="476.90" y2="434.78" stroke="#444" stroke-width="1.3"/>
<line x1="472.70" y1="691.21" x2="474.90" y2="691.21" stroke="#444" stroke-width="1.3"/>
<line x1="472.70" y1="634.22" x2="474.90" y2="634.22" stroke="#444" stroke-width="1.3"/>
<line x1="472.70" y1="577.24" x2="474.90" y2="577.24" stroke="#444" stroke-width="1.3"/>
<line x1="472.70" y1="520.25" x2="474.90" y2="520.25" stroke="#444" stroke-width="1.3"/>
<line x1="472.70" y1="463.27" x2="474.90" y2="463.27" stroke="#444" stroke-width="1.3"/>
<line x1="472.70" y1="406.28" x2="474.90" y2="406.28" stroke="#444" stroke-width="1.3"/>
<line x1="545.30" y1="719.70" x2="545.30" y2="713.70" stroke="#444" stroke-width="1.1"/>
<line x1="617.90" y1="719.70" x2="617.90" y2="713.70" stroke="#444" stroke-width="1.1"/>
<line x1="690.50" y1="719.70" x2="690.50" y2="713.70" stroke="#444" stroke-width="1.1"/>
<line x1="763.10" y1="719.70" x2="763.10" y2="713.70" stroke="#444" stroke-width="1.1"/>
<line x1="509.00" y1="719.70" x2="509.00" y2="716.40" stroke="#444" stroke-width="1.1"/>
<line x1="581.60" y1="719.70" x2="581.60" y2="716.40" stroke="#444" stroke-width="1.1"/>
<line x1="654.20" y1="719.70" x2="654.20" y2="716.40" stroke="#444" stroke-width="1.1"/>
<line x1="726.80" y1="719.70" x2="726.80" y2="716.40" stroke="#444" stroke-width="1.1"/>
<text transform="translate(467.00,724.90) scale(0.660,1)" font-size="18.40" font-weight="bold" fill="#111" stroke="#111" stroke-width="0.45" text-anchor="end" >0</text>
<text transform="translate(467.00,667.92) scale(0.660,1)" font-size="18.40" font-weight="bold" fill="#111" stroke="#111" stroke-width="0.45" text-anchor="end" >5</text>
<text transform="translate(467.00,610.93) scale(0.660,1)" font-size="18.40" font-weight="bold" fill="#111" stroke="#111" stroke-width="0.45" text-anchor="end" >10</text>
<text transform="translate(467.00,553.95) scale(0.660,1)" font-size="18.40" font-weight="bold" fill="#111" stroke="#111" stroke-width="0.45" text-anchor="end" >15</text>
<text transform="translate(467.00,496.96) scale(0.660,1)" font-size="18.40" font-weight="bold" fill="#111" stroke="#111" stroke-width="0.45" text-anchor="end" >20</text>
<text transform="translate(467.00,439.98) scale(0.660,1)" font-size="18.40" font-weight="bold" fill="#111" stroke="#111" stroke-width="0.45" text-anchor="end" >25</text>
<text transform="translate(467.00,382.99) scale(0.660,1)" font-size="18.40" font-weight="bold" fill="#111" stroke="#111" stroke-width="0.45" text-anchor="end" >30</text>
<text transform="translate(472.70,741.40) scale(0.660,1)" font-size="18.40" font-weight="bold" fill="#111" stroke="#111" stroke-width="0.45" text-anchor="middle" >0.0</text>
<text transform="translate(545.30,741.40) scale(0.660,1)" font-size="18.40" font-weight="bold" fill="#111" stroke="#111" stroke-width="0.45" text-anchor="middle" >0.2</text>
<text transform="translate(617.90,741.40) scale(0.660,1)" font-size="18.40" font-weight="bold" fill="#111" stroke="#111" stroke-width="0.45" text-anchor="middle" >0.4</text>
<text transform="translate(690.50,741.40) scale(0.660,1)" font-size="18.40" font-weight="bold" fill="#111" stroke="#111" stroke-width="0.45" text-anchor="middle" >0.6</text>
<text transform="translate(763.10,741.40) scale(0.660,1)" font-size="18.40" font-weight="bold" fill="#111" stroke="#111" stroke-width="0.45" text-anchor="middle" >0.8</text>
<path d="M472.70,443.21 L473.40,443.23 L474.11,443.25 L474.81,443.28 L475.51,443.30 L476.22,443.32 L476.92,443.34 L477.62,443.36 L478.33,443.39 L479.03,443.41 L479.73,443.43 L480.44,443.45 L481.14,443.47 L481.84,443.50 L482.55,443.52 L483.25,443.54 L483.95,443.56 L484.66,443.58 L485.36,443.61 L486.06,443.63 L486.77,443.65 L487.47,443.67 L488.17,443.69 L488.87,443.72 L489.58,443.74 L490.28,443.76 L490.98,443.78 L491.69,443.80 L492.39,443.83 L493.09,443.85 L493.80,443.87 L494.50,443.89 L495.20,443.92 L495.91,443.94 L496.61,443.96 L497.31,443.98 L498.02,444.00 L498.72,444.03 L499.42,444.05 L500.13,444.07 L500.83,444.09 L501.53,444.11 L502.24,444.14 L502.94,444.16 L503.64,444.18 L504.35,444.20 L505.05,444.22 L505.75,444.25 L506.46,444.27 L507.16,444.29 L507.86,444.31 L508.57,444.33 L509.27,444.36 L509.97,444.38 L510.68,444.40 L511.38,444.42 L512.08,444.45 L512.79,444.47 L513.49,444.49 L514.19,444.51 L514.90,444.53 L515.60,444.56 L516.30,444.58 L517.01,444.60 L517.71,444.62 L518.41,444.64 L519.11,444.67 L519.82,444.69 L520.52,444.71 L521.22,444.73 L521.93,444.75 L522.63,444.78 L523.33,444.80 L524.04,444.82 L524.74,444.84 L525.44,444.86 L526.15,444.89 L526.85,444.91 L527.55,444.93 L528.26,444.95 L528.96,444.98 L529.66,445.00 L530.37,445.02 L531.07,445.04 L531.77,445.06 L532.48,445.09 L533.18,445.11 L533.88,445.13 L534.59,445.15 L535.29,445.17 L535.99,445.20 L536.70,445.22 L537.40,445.24 L538.10,445.26 L538.81,445.28 L539.51,445.31 L540.21,445.33 L540.92,445.35 L541.62,445.37 L542.32,445.39 L543.03,445.42 L543.73,445.44 L544.43,445.46 L545.14,445.48 L545.84,445.51 L546.54,445.53 L547.25,445.55 L547.95,445.57 L548.65,445.59 L549.35,445.62 L550.06,445.64 L550.76,445.66 L551.46,445.68 L552.17,445.70 L552.87,445.73 L553.57,445.75 L554.28,445.77 L554.98,445.79 L555.68,445.81 L556.39,445.84 L557.09,445.86 L557.79,445.88 L558.50,445.90 L559.20,445.92 L559.90,445.95 L560.61,445.97 L561.31,445.99 L562.01,446.01 L562.72,446.04 L563.42,446.06 L564.12,446.08 L564.83,446.10 L565.53,446.12 L566.23,446.15 L566.94,446.17 L567.64,446.19 L568.34,446.21 L569.05,446.23 L569.75,446.26 L570.45,446.28 L571.16,446.30 L571.86,446.32 L572.56,446.34 L573.27,446.37 L573.97,446.39 L574.67,446.41 L575.38,446.43 L576.08,446.45 L576.78,446.48 L577.49,446.50 L578.19,446.52 L578.89,446.54 L579.59,446.56 L580.30,446.59 L581.00,446.61 L581.70,446.63 L582.41,446.65 L583.11,446.68 L583.81,446.70 L584.52,446.72 L585.22,446.74 L585.92,446.76 L586.63,446.79 L587.33,446.81 L588.03,446.83 L588.74,446.85 L589.44,446.87 L590.14,446.90 L590.85,446.92 L591.55,446.94 L592.25,446.96 L592.96,446.98 L593.66,447.01 L594.36,447.03 L595.07,447.05 L595.77,447.07 L596.47,447.09 L597.18,447.12 L597.88,447.14 L598.58,447.16 L599.29,447.18 L599.99,447.21 L600.69,447.23 L601.40,447.25 L602.10,447.27 L602.80,447.29 L603.51,447.32 L604.21,447.34 L604.91,447.36 L605.62,447.38 L606.32,447.40 L607.02,447.43 L607.73,447.45 L608.43,447.47 L609.13,447.49 L609.83,447.51 L610.54,447.54 L611.24,447.56 L611.94,447.58 L612.65,447.60 L613.35,447.63 L614.05,447.65 L614.76,447.67 L615.46,447.69 L616.16,447.71 L616.87,447.74 L617.57,447.76 L618.27,447.78 L618.98,447.80 L619.68,447.82 L620.38,447.85 L621.09,447.87 L621.79,447.89 L622.49,447.91 L623.20,447.94 L623.90,447.96 L624.60,447.98 L625.31,448.00 L626.01,448.02 L626.71,448.05 L627.42,448.07 L628.12,448.09 L628.82,448.11 L629.53,448.13 L630.23,448.16 L630.93,448.18 L631.64,448.20 L632.34,448.22 L633.04,448.25 L633.75,448.27 L634.45,448.29 L635.15,448.31 L635.86,448.34 L636.56,448.36 L637.26,448.38 L637.97,448.40 L638.67,448.42 L639.37,448.45 L640.07,448.47 L640.78,448.49 L641.48,448.51 L642.18,448.54 L642.89,448.56 L643.59,448.58 L644.29,448.60 L645.00,448.63 L645.70,448.65 L646.40,448.67 L647.11,448.70 L647.81,448.72 L648.51,448.74 L649.22,448.76 L649.92,448.79 L650.62,448.81 L651.33,448.83 L652.03,448.86 L652.73,448.88 L653.44,448.90 L654.14,448.93 L654.84,448.95 L655.55,448.97 L656.25,449.00 L656.95,449.02 L657.66,449.05 L658.36,449.07 L659.06,449.09 L659.77,449.12 L660.47,449.14 L661.17,449.17 L661.88,449.19 L662.58,449.22 L663.28,449.24 L663.99,449.27 L664.69,449.30 L665.39,449.32 L666.10,449.35 L666.80,449.38 L667.50,449.40 L668.21,449.43 L668.91,449.46 L669.61,449.49 L670.31,449.51 L671.02,449.54 L671.72,449.57 L672.42,449.60 L673.13,449.63 L673.83,449.66 L674.53,449.70 L675.24,449.73 L675.94,449.76 L676.64,449.80 L677.35,449.83 L678.05,449.87 L678.75,449.90 L679.46,449.94 L680.16,449.98 L680.86,450.02 L681.57,450.06 L682.27,450.10 L682.97,450.15 L683.68,450.19 L684.38,450.24 L685.08,450.29 L685.79,450.34 L686.49,450.39 L687.19,450.44 L687.90,450.50 L688.60,450.56 L689.30,450.62 L690.01,450.69 L690.71,450.75 L691.41,450.82 L692.12,450.90 L692.82,450.98 L693.52,451.06 L694.23,451.14 L694.93,451.23 L695.63,451.33 L696.34,451.43 L697.04,451.53 L697.74,451.64 L698.45,451.76 L699.15,451.88 L699.85,452.01 L700.55,452.15 L701.26,452.29 L701.96,452.45 L702.66,452.61 L703.37,452.78 L704.07,452.97 L704.77,453.16 L705.48,453.37 L706.18,453.59 L706.88,453.82 L707.59,454.07 L708.29,454.33 L708.99,454.61 L709.70,454.90 L710.40,455.22 L711.10,455.56 L711.81,455.91 L712.51,456.30 L713.21,456.70 L713.92,457.13 L714.62,457.59 L715.32,458.09 L716.03,458.61 L716.73,459.17 L717.43,459.76 L718.14,460.40 L718.84,461.08 L719.54,461.80 L720.25,462.57 L720.95,463.39 L721.65,464.27 L722.36,465.21 L723.06,466.21 L723.76,467.27 L724.47,468.41 L725.17,469.63 L725.87,470.93 L726.58,472.32 L727.28,473.80 L727.98,475.39 L728.69,477.08 L729.39,478.88 L730.09,480.81 L730.79,482.88 L731.50,485.08 L732.20,487.43 L732.90,489.95 L733.61,492.63 L734.31,495.51 L735.01,498.57 L735.72,501.85 L736.42,505.35 L737.12,509.10 L737.83,513.10 L738.53,517.37 L739.23,521.94 L739.94,526.83 L740.64,532.04 L741.34,537.62 L742.05,543.59 L742.75,549.96 L743.45,556.77 L744.16,564.05 L744.86,571.83 L745.56,580.15 L746.27,589.04 L746.97,598.54 L747.67,608.70 L748.38,619.56 L749.08,631.17 L749.78,643.58 L750.49,656.84 L751.19,671.02 L751.89,686.18 L752.60,702.38 L753.30,719.70" fill="none" stroke="#777" stroke-width="1.0"/>
<rect x="470.70" y="440.51" width="4" height="5.4" fill="#000"/>
<rect x="477.96" y="440.74" width="4" height="5.4" fill="#000"/>
<rect x="485.22" y="440.96" width="4" height="5.4" fill="#000"/>
<rect x="492.48" y="441.19" width="4" height="5.4" fill="#000"/>
<rect x="499.74" y="441.42" width="4" height="5.4" fill="#000"/>
<rect x="507.00" y="441.65" width="4" height="5.4" fill="#000"/>
<rect x="514.26" y="441.88" width="4" height="5.4" fill="#000"/>
<rect x="521.52" y="442.10" width="4" height="5.4" fill="#000"/>
<rect x="528.78" y="442.33" width="4" height="5.4" fill="#000"/>
<rect x="536.04" y="442.56" width="4" height="5.4" fill="#000"/>
<rect x="543.30" y="442.79" width="4" height="5.4" fill="#000"/>
<rect x="550.56" y="443.02" width="4" height="5.4" fill="#000"/>
<rect x="557.82" y="443.24" width="4" height="5.4" fill="#000"/>
<rect x="565.08" y="443.47" width="4" height="5.4" fill="#000"/>
<rect x="572.34" y="443.70" width="4" height="5.4" fill="#000"/>
<rect x="579.60" y="443.93" width="4" height="5.4" fill="#000"/>
<rect x="586.86" y="444.16" width="4" height="5.4" fill="#000"/>
<rect x="594.12" y="444.38" width="4" height="5.4" fill="#000"/>
<rect x="601.38" y="444.61" width="4" height="5.4" fill="#000"/>
<rect x="608.64" y="444.84" width="4" height="5.4" fill="#000"/>
<rect x="615.90" y="445.07" width="4" height="5.4" fill="#000"/>
<rect x="623.16" y="445.30" width="4" height="5.4" fill="#000"/>
<rect x="630.42" y="445.53" width="4" height="5.4" fill="#000"/>
<rect x="637.68" y="445.76" width="4" height="5.4" fill="#000"/>
<rect x="644.94" y="445.99" width="4" height="5.4" fill="#000"/>
<rect x="652.20" y="446.23" width="4" height="5.4" fill="#000"/>
<rect x="659.46" y="446.48" width="4" height="5.4" fill="#000"/>
<rect x="666.72" y="446.75" width="4" height="5.4" fill="#000"/>
<rect x="673.98" y="447.06" width="4" height="5.4" fill="#000"/>
<rect x="681.24" y="447.46" width="4" height="5.4" fill="#000"/>
<rect x="688.50" y="448.03" width="4" height="5.4" fill="#000"/>
<rect x="695.76" y="448.94" width="4" height="5.4" fill="#000"/>
<rect x="703.02" y="450.53" width="4" height="5.4" fill="#000"/>
<rect x="710.28" y="453.47" width="4" height="5.4" fill="#000"/>
<rect x="717.54" y="459.10" width="4" height="5.4" fill="#000"/>
<rect x="724.80" y="470.08" width="4" height="5.4" fill="#000"/>
<rect x="732.06" y="491.76" width="4" height="5.4" fill="#000"/>
<rect x="739.32" y="534.73" width="4" height="5.4" fill="#000"/>
<rect x="746.58" y="620.15" width="4" height="5.4" fill="#000"/>
<path d="M472.70,433.98 L473.41,433.99 L474.11,433.99 L474.82,434.00 L475.52,434.01 L476.23,434.02 L476.94,434.03 L477.64,434.04 L478.35,434.05 L479.05,434.06 L479.76,434.07 L480.47,434.07 L481.17,434.08 L481.88,434.09 L482.58,434.10 L483.29,434.11 L484.00,434.12 L484.70,434.13 L485.41,434.14 L486.11,434.15 L486.82,434.15 L487.53,434.16 L488.23,434.17 L488.94,434.18 L489.64,434.19 L490.35,434.20 L491.06,434.21 L491.76,434.22 L492.47,434.23 L493.17,434.23 L493.88,434.24 L494.59,434.25 L495.29,434.26 L496.00,434.27 L496.70,434.28 L497.41,434.29 L498.12,434.30 L498.82,434.31 L499.53,434.31 L500.23,434.32 L500.94,434.33 L501.65,434.34 L502.35,434.35 L503.06,434.36 L503.76,434.37 L504.47,434.38 L505.18,434.39 L505.88,434.39 L506.59,434.40 L507.29,434.41 L508.00,434.42 L508.71,434.43 L509.41,434.44 L510.12,434.45 L510.82,434.46 L511.53,434.46 L512.24,434.47 L512.94,434.48 L513.65,434.49 L514.35,434.50 L515.06,434.51 L515.77,434.52 L516.47,434.53 L517.18,434.54 L517.88,434.54 L518.59,434.55 L519.30,434.56 L520.00,434.57 L520.71,434.58 L521.41,434.59 L522.12,434.60 L522.82,434.61 L523.53,434.62 L524.24,434.62 L524.94,434.63 L525.65,434.64 L526.35,434.65 L527.06,434.66 L527.77,434.67 L528.47,434.68 L529.18,434.69 L529.88,434.70 L530.59,434.70 L531.30,434.71 L532.00,434.72 L532.71,434.73 L533.41,434.74 L534.12,434.75 L534.83,434.76 L535.53,434.77 L536.24,434.78 L536.94,434.78 L537.65,434.79 L538.36,434.80 L539.06,434.81 L539.77,434.82 L540.47,434.83 L541.18,434.84 L541.89,434.85 L542.59,434.85 L543.30,434.86 L544.00,434.87 L544.71,434.88 L545.42,434.89 L546.12,434.90 L546.83,434.91 L547.53,434.92 L548.24,434.93 L548.95,434.93 L549.65,434.94 L550.36,434.95 L551.06,434.96 L551.77,434.97 L552.48,434.98 L553.18,434.99 L553.89,435.00 L554.59,435.01 L555.30,435.01 L556.01,435.02 L556.71,435.03 L557.42,435.04 L558.12,435.05 L558.83,435.06 L559.54,435.07 L560.24,435.08 L560.95,435.09 L561.65,435.09 L562.36,435.10 L563.07,435.11 L563.77,435.12 L564.48,435.13 L565.18,435.14 L565.89,435.15 L566.60,435.16 L567.30,435.17 L568.01,435.17 L568.71,435.18 L569.42,435.19 L570.13,435.20 L570.83,435.21 L571.54,435.22 L572.24,435.23 L572.95,435.24 L573.66,435.25 L574.36,435.25 L575.07,435.26 L575.77,435.27 L576.48,435.28 L577.19,435.29 L577.89,435.30 L578.60,435.31 L579.30,435.32 L580.01,435.32 L580.72,435.33 L581.42,435.34 L582.13,435.35 L582.83,435.36 L583.54,435.37 L584.25,435.38 L584.95,435.39 L585.66,435.40 L586.36,435.40 L587.07,435.41 L587.78,435.42 L588.48,435.43 L589.19,435.44 L589.89,435.45 L590.60,435.46 L591.31,435.47 L592.01,435.48 L592.72,435.48 L593.42,435.49 L594.13,435.50 L594.84,435.51 L595.54,435.52 L596.25,435.53 L596.95,435.54 L597.66,435.55 L598.37,435.56 L599.07,435.56 L599.78,435.57 L600.48,435.58 L601.19,435.59 L601.90,435.60 L602.60,435.61 L603.31,435.62 L604.01,435.63 L604.72,435.64 L605.43,435.64 L606.13,435.65 L606.84,435.66 L607.54,435.67 L608.25,435.68 L608.96,435.69 L609.66,435.70 L610.37,435.71 L611.07,435.72 L611.78,435.72 L612.49,435.73 L613.19,435.74 L613.90,435.75 L614.60,435.76 L615.31,435.77 L616.01,435.78 L616.72,435.79 L617.43,435.80 L618.13,435.80 L618.84,435.81 L619.54,435.82 L620.25,435.83 L620.96,435.84 L621.66,435.85 L622.37,435.86 L623.07,435.87 L623.78,435.88 L624.49,435.88 L625.19,435.89 L625.90,435.90 L626.60,435.91 L627.31,435.92 L628.02,435.93 L628.72,435.94 L629.43,435.95 L630.13,435.96 L630.84,435.96 L631.55,435.97 L632.25,435.98 L632.96,435.99 L633.66,436.00 L634.37,436.01 L635.08,436.02 L635.78,436.03 L636.49,436.04 L637.19,436.05 L637.90,436.05 L638.61,436.06 L639.31,436.07 L640.02,436.08 L640.72,436.09 L641.43,436.10 L642.14,436.11 L642.84,436.12 L643.55,436.13 L644.25,436.14 L644.96,436.15 L645.67,436.16 L646.37,436.17 L647.08,436.17 L647.78,436.18 L648.49,436.19 L649.20,436.20 L649.90,436.21 L650.61,436.22 L651.31,436.23 L652.02,436.24 L652.73,436.25 L653.43,436.26 L654.14,436.27 L654.84,436.28 L655.55,436.29 L656.26,436.30 L656.96,436.31 L657.67,436.32 L658.37,436.33 L659.08,436.34 L659.79,436.35 L660.49,436.36 L661.20,436.37 L661.90,436.38 L662.61,436.40 L663.32,436.41 L664.02,436.42 L664.73,436.43 L665.43,436.44 L666.14,436.45 L666.85,436.47 L667.55,436.48 L668.26,436.49 L668.96,436.51 L669.67,436.52 L670.38,436.53 L671.08,436.55 L671.79,436.56 L672.49,436.58 L673.20,436.59 L673.91,436.61 L674.61,436.62 L675.32,436.64 L676.02,436.66 L676.73,436.68 L677.44,436.69 L678.14,436.71 L678.85,436.73 L679.55,436.75 L680.26,436.78 L680.97,436.80 L681.67,436.82 L682.38,436.85 L683.08,436.87 L683.79,436.90 L684.50,436.93 L685.20,436.96 L685.91,436.99 L686.61,437.02 L687.32,437.06 L688.03,437.09 L688.73,437.13 L689.44,437.17 L690.14,437.22 L690.85,437.26 L691.56,437.31 L692.26,437.36 L692.97,437.41 L693.67,437.47 L694.38,437.53 L695.09,437.60 L695.79,437.66 L696.50,437.74 L697.20,437.81 L697.91,437.90 L698.62,437.98 L699.32,438.08 L700.03,438.17 L700.73,438.28 L701.44,438.39 L702.15,438.51 L702.85,438.64 L703.56,438.78 L704.26,438.92 L704.97,439.08 L705.68,439.24 L706.38,439.42 L707.09,439.61 L707.79,439.81 L708.50,440.03 L709.20,440.26 L709.91,440.51 L710.62,440.77 L711.32,441.05 L712.03,441.35 L712.73,441.68 L713.44,442.02 L714.15,442.39 L714.85,442.79 L715.56,443.21 L716.26,443.67 L716.97,444.15 L717.68,444.67 L718.38,445.23 L719.09,445.83 L719.79,446.46 L720.50,447.15 L721.21,447.88 L721.91,448.67 L722.62,449.51 L723.32,450.41 L724.03,451.37 L724.74,452.40 L725.44,453.51 L726.15,454.70 L726.85,455.97 L727.56,457.33 L728.27,458.78 L728.97,460.35 L729.68,462.02 L730.38,463.81 L731.09,465.74 L731.80,467.80 L732.50,470.00 L733.21,472.37 L733.91,474.90 L734.62,477.62 L735.33,480.53 L736.03,483.65 L736.74,487.00 L737.44,490.58 L738.15,494.42 L738.86,498.54 L739.56,502.95 L740.27,507.68 L740.97,512.75 L741.68,518.18 L742.39,524.00 L743.09,530.24 L743.80,536.93 L744.50,544.10 L745.21,551.79 L745.92,560.02 L746.62,568.85 L747.33,578.31 L748.03,588.46 L748.74,599.33 L749.45,610.98 L750.15,623.47 L750.86,636.86 L751.56,651.21 L752.27,666.59 L752.98,683.08 L753.68,700.76 L754.39,719.70" fill="none" stroke="#ff3a3a" stroke-width="1.0"/>
<ellipse cx="472.70" cy="433.98" rx="1.6" ry="2.3" fill="#ff0000"/>
<ellipse cx="479.96" cy="434.07" rx="1.6" ry="2.3" fill="#ff0000"/>
<ellipse cx="487.22" cy="434.16" rx="1.6" ry="2.3" fill="#ff0000"/>
<ellipse cx="494.48" cy="434.25" rx="1.6" ry="2.3" fill="#ff0000"/>
<ellipse cx="501.74" cy="434.34" rx="1.6" ry="2.3" fill="#ff0000"/>
<ellipse cx="509.00" cy="434.43" rx="1.6" ry="2.3" fill="#ff0000"/>
<ellipse cx="516.26" cy="434.52" rx="1.6" ry="2.3" fill="#ff0000"/>
<ellipse cx="523.52" cy="434.62" rx="1.6" ry="2.3" fill="#ff0000"/>
<ellipse cx="530.78" cy="434.71" rx="1.6" ry="2.3" fill="#ff0000"/>
<ellipse cx="538.04" cy="434.80" rx="1.6" ry="2.3" fill="#ff0000"/>
<ellipse cx="545.30" cy="434.89" rx="1.6" ry="2.3" fill="#ff0000"/>
<ellipse cx="552.56" cy="434.98" rx="1.6" ry="2.3" fill="#ff0000"/>
<ellipse cx="559.82" cy="435.07" rx="1.6" ry="2.3" fill="#ff0000"/>
<ellipse cx="567.08" cy="435.16" rx="1.6" ry="2.3" fill="#ff0000"/>
<ellipse cx="574.34" cy="435.25" rx="1.6" ry="2.3" fill="#ff0000"/>
<ellipse cx="581.60" cy="435.34" rx="1.6" ry="2.3" fill="#ff0000"/>
<ellipse cx="588.86" cy="435.44" rx="1.6" ry="2.3" fill="#ff0000"/>
<ellipse cx="596.12" cy="435.53" rx="1.6" ry="2.3" fill="#ff0000"/>
<ellipse cx="603.38" cy="435.62" rx="1.6" ry="2.3" fill="#ff0000"/>
<ellipse cx="610.64" cy="435.71" rx="1.6" ry="2.3" fill="#ff0000"/>
<ellipse cx="617.90" cy="435.80" rx="1.6" ry="2.3" fill="#ff0000"/>
<ellipse cx="625.16" cy="435.89" rx="1.6" ry="2.3" fill="#ff0000"/>
<ellipse cx="632.42" cy="435.98" rx="1.6" ry="2.3" fill="#ff0000"/>
<ellipse cx="639.68" cy="436.08" rx="1.6" ry="2.3" fill="#ff0000"/>
<ellipse cx="646.94" cy="436.17" rx="1.6" ry="2.3" fill="#ff0000"/>
<ellipse cx="654.20" cy="436.27" rx="1.6" ry="2.3" fill="#ff0000"/>
<ellipse cx="661.46" cy="436.38" rx="1.6" ry="2.3" fill="#ff0000"/>
<ellipse cx="668.72" cy="436.50" rx="1.6" ry="2.3" fill="#ff0000"/>
<ellipse cx="675.98" cy="436.66" rx="1.6" ry="2.3" fill="#ff0000"/>
<ellipse cx="683.24" cy="436.88" rx="1.6" ry="2.3" fill="#ff0000"/>
<ellipse cx="690.50" cy="437.24" rx="1.6" ry="2.3" fill="#ff0000"/>
<ellipse cx="697.76" cy="437.88" rx="1.6" ry="2.3" fill="#ff0000"/>
<ellipse cx="705.02" cy="439.09" rx="1.6" ry="2.3" fill="#ff0000"/>
<ellipse cx="712.28" cy="441.47" rx="1.6" ry="2.3" fill="#ff0000"/>
<ellipse cx="719.54" cy="446.23" rx="1.6" ry="2.3" fill="#ff0000"/>
<ellipse cx="726.80" cy="455.86" rx="1.6" ry="2.3" fill="#ff0000"/>
<ellipse cx="734.06" cy="475.45" rx="1.6" ry="2.3" fill="#ff0000"/>
<ellipse cx="741.32" cy="515.36" rx="1.6" ry="2.3" fill="#ff0000"/>
<ellipse cx="748.58" cy="596.80" rx="1.6" ry="2.3" fill="#ff0000"/>
<line x1="220.4" y1="392.4" x2="246.3" y2="392.4" stroke="#111" stroke-width="1.6"/><rect x="230.9" y="390" width="4.8" height="4.8" fill="#000"/>
<text transform="translate(247.96,398.00) scale(0.700,1)" font-size="19.30" font-weight="normal" fill="#111" stroke="#111" stroke-width="0.3">TiO<tspan dy="5.5">2</tspan></text>
<line x1="220.4" y1="421.3" x2="246.3" y2="421.3" stroke="#1010e0" stroke-width="1.6"/><circle cx="233.3" cy="421.3" r="1.8" fill="#0000ff"/>
<text transform="translate(248.01,426.00) scale(0.665,1)" font-size="18.40" font-weight="bold" fill="#1c1cc4" stroke="#1c1cc4" stroke-width="0.45">TiO<tspan dy="5.5">2</tspan><tspan dy="-5.5"> + Co-NG</tspan></text>
<text transform="translate(164.41,405.40) scale(0.720,1)" font-size="24.00" font-weight="normal" fill="#222" stroke="#222" stroke-width="0.3">(a)</text>
<text transform="translate(140.40,569.55) scale(0.720,1) rotate(-90)" font-size="16.00" font-weight="bold" fill="#1c1cc4" stroke="#1c1cc4" stroke-width="0.45">TiO<tspan dy="3.5">2</tspan><tspan dy="-3.5"> + Co-NG</tspan></text>
<line x1="152.1" y1="457" x2="152.1" y2="567.5" stroke="#f2a8a8" stroke-width="1.1" stroke-dasharray="2,2.3"/>
<text transform="translate(158.16,466.90) scale(0.675,1)" font-size="18.00" font-weight="bold" fill="#1c1cc4" stroke="#1c1cc4" stroke-width="0.45">Voc =</text>
<text transform="translate(212.44,466.90) scale(0.675,1)" font-size="18.00" font-weight="bold" fill="#1c1cc4" stroke="#1c1cc4" stroke-width="0.45">0.89 V</text>
<text transform="translate(157.76,502.60) scale(0.675,1)" font-size="18.00" font-weight="bold" fill="#1c1cc4" stroke="#1c1cc4" stroke-width="0.45">Jsc =</text>
<text transform="translate(212.39,502.60) scale(0.675,1)" font-size="18.00" font-weight="bold" fill="#1c1cc4" stroke="#1c1cc4" stroke-width="0.45">24.60 mA cm</text>
<text transform="translate(158.09,533.90) scale(0.675,1)" font-size="18.00" font-weight="bold" fill="#1c1cc4" stroke="#1c1cc4" stroke-width="0.45">FF =</text>
<text transform="translate(212.50,533.90) scale(0.675,1)" font-size="18.00" font-weight="bold" fill="#1c1cc4" stroke="#1c1cc4" stroke-width="0.45">86.64 %</text>
<text transform="translate(158.12,565.50) scale(0.675,1)" font-size="18.00" font-weight="bold" fill="#1c1cc4" stroke="#1c1cc4" stroke-width="0.45">η</text>
<text transform="translate(176.19,565.50) scale(0.675,1)" font-size="18.00" font-weight="bold" fill="#1c1cc4" stroke="#1c1cc4" stroke-width="0.45">=</text>
<text transform="translate(211.93,565.50) scale(0.675,1)" font-size="18.00" font-weight="bold" fill="#1c1cc4" stroke="#1c1cc4" stroke-width="0.45">18.94 %</text>
<text transform="translate(279.12,494.60) scale(0.650,1)" font-size="20.00" font-weight="bold" fill="#1c1cc4" stroke="#1c1cc4" stroke-width="0.45">-2</text>
<text transform="translate(112.30,665.83) scale(0.720,1) rotate(-90)" font-size="14.80" font-weight="bold" fill="#111" stroke="#111" stroke-width="0.45">TiO<tspan dy="4.5">2</tspan></text>
<line x1="120.5" y1="595.3" x2="120.5" y2="701.3" stroke="#a0a0a0" stroke-width="1.1" stroke-dasharray="2,2.3"/>
<text transform="translate(126.56,603.90) scale(0.675,1)" font-size="18.00" font-weight="bold" fill="#111" stroke="#111" stroke-width="0.45">Voc =</text>
<text transform="translate(181.24,603.90) scale(0.675,1)" font-size="18.00" font-weight="bold" fill="#111" stroke="#111" stroke-width="0.45">0.89 V</text>
<text transform="translate(126.16,638.10) scale(0.675,1)" font-size="18.00" font-weight="bold" fill="#111" stroke="#111" stroke-width="0.45">Jsc =</text>
<text transform="translate(181.19,638.10) scale(0.675,1)" font-size="18.00" font-weight="bold" fill="#111" stroke="#111" stroke-width="0.45">24.37 mA cm</text>
<text transform="translate(126.49,670.20) scale(0.675,1)" font-size="18.00" font-weight="bold" fill="#111" stroke="#111" stroke-width="0.45">FF =</text>
<text transform="translate(181.30,670.20) scale(0.675,1)" font-size="18.00" font-weight="bold" fill="#111" stroke="#111" stroke-width="0.45">86.55 %</text>
<text transform="translate(126.52,703.70) scale(0.675,1)" font-size="18.00" font-weight="bold" fill="#111" stroke="#111" stroke-width="0.45">η</text>
<text transform="translate(144.99,703.70) scale(0.675,1)" font-size="18.00" font-weight="bold" fill="#111" stroke="#111" stroke-width="0.45">=</text>
<text transform="translate(180.73,703.70) scale(0.675,1)" font-size="18.00" font-weight="bold" fill="#111" stroke="#111" stroke-width="0.45">18.70 %</text>
<text transform="translate(248.12,632.40) scale(0.650,1)" font-size="20.00" font-weight="bold" fill="#111" stroke="#111" stroke-width="0.45">-2</text>
<line x1="663.6" y1="394.4" x2="687.8" y2="394.4" stroke="#999" stroke-width="1.4"/><rect x="673.7" y="391.6" width="4" height="5.6" fill="#000"/>
<text transform="translate(690.23,400.60) scale(0.650,1)" font-size="21.40" font-weight="bold" fill="#111" stroke="#111" stroke-width="0.45">ZnO</text>
<line x1="663.6" y1="420.3" x2="687.8" y2="420.3" stroke="#f99" stroke-width="1.4"/><ellipse cx="675.7" cy="420.3" rx="1.6" ry="2.3" fill="#f00"/>
<text transform="translate(690.23,426.10) scale(0.650,1)" font-size="21.40" font-weight="bold" fill="#f01414" stroke="#f01414" stroke-width="0.45">ZnO/Co-NG</text>
<text transform="translate(557.43,407.70) scale(0.690,1)" font-size="25.00" font-weight="bold" fill="#111" stroke="#111" stroke-width="0.45">(c)</text>
<text transform="translate(504.30,539.56) scale(0.720,1) rotate(-90)" font-size="20.10" font-weight="bold" fill="#111" stroke="#111" stroke-width="0.45">ZnO</text>
<line x1="515.2" y1="471.5" x2="515.2" y2="572.1" stroke="#a8a8a8" stroke-width="1.1" stroke-dasharray="2,2.3"/>
<text transform="translate(523.06,487.50) scale(0.650,1)" font-size="19.60" font-weight="bold" fill="#111" stroke="#111" stroke-width="0.45">Voc = 0.77 V</text>
<text transform="translate(522.63,522.30) scale(0.650,1)" font-size="19.60" font-weight="bold" fill="#111" stroke="#111" stroke-width="0.45">Jsc = 24.26 mA cm</text>
<text transform="translate(627.54,515.40) scale(0.650,1)" font-size="19.50" font-weight="bold" fill="#111" stroke="#111" stroke-width="0.45">-2</text>
<text transform="translate(522.98,548.40) scale(0.650,1)" font-size="19.60" font-weight="bold" fill="#111" stroke="#111" stroke-width="0.45">FF = 81.93 %</text>
<text transform="translate(523.01,573.90) scale(0.650,1)" font-size="19.60" font-weight="bold" fill="#111" stroke="#111" stroke-width="0.45">η = 15.35 %</text>
<text transform="translate(566.30,705.38) scale(0.720,1) rotate(-90)" font-size="20.40" font-weight="bold" fill="#f01414" stroke="#f01414" stroke-width="0.45">ZnO/Co-NG</text>
<line x1="575.3" y1="587.8" x2="575.3" y2="701.2" stroke="#f09090" stroke-width="1.1" stroke-dasharray="2,2.3"/>
<text transform="translate(583.96,605.70) scale(0.650,1)" font-size="19.60" font-weight="bold" fill="#f01414" stroke="#f01414" stroke-width="0.45">Voc =</text>
<text transform="translate(639.71,605.70) scale(0.650,1)" font-size="19.60" font-weight="bold" fill="#f01414" stroke="#f01414" stroke-width="0.45">0.77</text>
<text transform="translate(583.53,640.50) scale(0.650,1)" font-size="19.60" font-weight="bold" fill="#f01414" stroke="#f01414" stroke-width="0.45">Jsc =</text>
<text transform="translate(637.07,640.50) scale(0.650,1)" font-size="19.60" font-weight="bold" fill="#f01414" stroke="#f01414" stroke-width="0.45">25.07 mA cm</text>
<text transform="translate(583.88,666.00) scale(0.650,1)" font-size="19.60" font-weight="bold" fill="#f01414" stroke="#f01414" stroke-width="0.45">FF =</text>
<text transform="translate(637.18,666.00) scale(0.650,1)" font-size="19.60" font-weight="bold" fill="#f01414" stroke="#f01414" stroke-width="0.45">84.02 %</text>
<text transform="translate(583.91,691.50) scale(0.650,1)" font-size="19.60" font-weight="bold" fill="#f01414" stroke="#f01414" stroke-width="0.45">η =</text>
<text transform="translate(636.58,691.50) scale(0.650,1)" font-size="19.60" font-weight="bold" fill="#f01414" stroke="#f01414" stroke-width="0.45">16.32 %</text>
<text transform="translate(711.14,632.60) scale(0.650,1)" font-size="19.50" font-weight="bold" fill="#f01414" stroke="#f01414" stroke-width="0.45">-2</text>
<text transform="translate(125.81,776.80) scale(0.718,1)" font-size="23.00" font-weight="bold" fill="#111" stroke="#111" stroke-width="0.45">Voltage (V)</text>
<text transform="translate(561.90,774.00) scale(0.700,1)" font-size="25.50" font-weight="bold" fill="#111" stroke="#111" stroke-width="0.45">Voltage (V)</text>
<text transform="translate(18.4,706.3) scale(0.667,1) rotate(-90)" font-size="24.5" font-weight="bold" fill="#111">Current Density (mA<tspan dx="5"> cm</tspan><tspan font-size="19" dx="1" dy="-12.4">-2</tspan><tspan font-size="21.5" dy="12.4">)</tspan></text>
<text transform="translate(434.0,721.5) scale(0.667,1) rotate(-90)" font-size="26.6" font-weight="bold" fill="#111">Current Density (mA<tspan dx="3.5"> cm</tspan><tspan font-size="20" dx="5" dy="-12.5">−</tspan><tspan font-size="28" dy="1.5">2</tspan><tspan font-size="16.5" dy="11">)</tspan></text>
</svg>
</body></html>
